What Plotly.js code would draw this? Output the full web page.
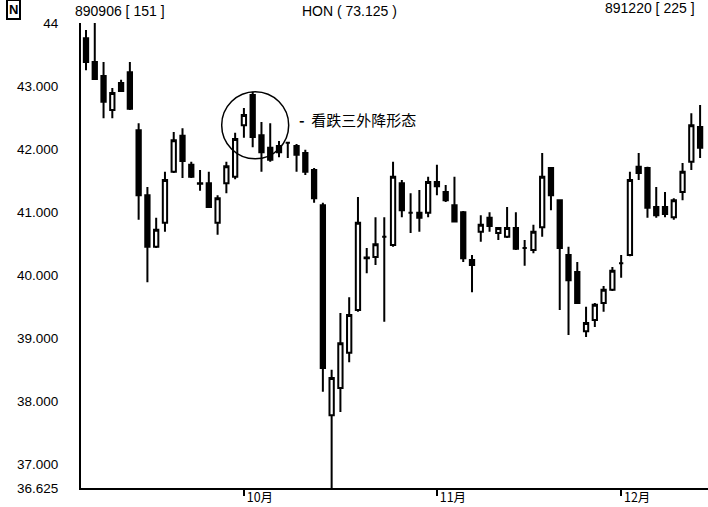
<!DOCTYPE html>
<html><head><meta charset="utf-8">
<script src="https://cdn.plot.ly/plotly-3.0.1.min.js"></script>
<style>html,body{margin:0;padding:0;background:#fff}#chart{width:708px;height:507px}</style>
</head><body><div id="chart"></div><script>
// ---- header info ----
const ticker = 'HON';
const lastPrice = '73.125';
const startDate = '890906', startNo = 151;
const endDate = '891220', endNo = 225;

// ---- daily bars (visible part of the chart) ----
const dates = [
 '890906','890907','890908','890911','890912','890913','890914','890915','890918','890919',
 '890920','890921','890922','890925','890926','890927','890928','890929',
 '891002','891003','891004','891005','891006','891009','891010','891011','891012','891013',
 '891016','891017','891018','891019','891020','891023','891024','891025','891026','891027',
 '891030','891031',
 '891101','891102','891103','891106','891107','891108','891109','891110','891113','891114',
 '891115','891116','891117','891120','891121','891122','891124','891127','891128','891129','891130',
 '891201','891204','891205','891206','891207','891208','891211','891212','891213','891214'
];
const open = [
 43.76,43.38,43.16,42.62,43.05,43.22,42.30,41.27,40.45,40.83,
 41.64,42.21,41.75,41.46,41.46,40.83,41.46,41.56,
 42.38,42.86,42.22,42.02,42.05,42.10,42.05,41.94,41.67,41.11,
 37.78,38.21,38.77,39.45,40.28,40.29,40.61,40.48,41.46,40.99,
 40.99,40.99,
 41.48,41.32,41.11,41.00,40.24,40.69,40.91,40.67,40.61,40.75,
 40.43,40.40,40.76,41.70,41.19,40.32,40.05,39.11,39.29,39.56,39.77,
 40.19,40.32,41.72,41.70,41.08,41.08,40.92,41.32,41.80,42.35
];
const high = [
 43.89,44.00,43.38,42.97,43.10,43.38,42.41,41.40,40.91,41.64,
 42.27,42.33,41.80,41.67,41.64,41.27,41.80,42.26,
 42.65,42.91,42.43,42.41,42.13,42.10,42.08,41.99,41.70,41.15,
 38.50,39.40,39.65,41.24,40.43,40.92,40.92,41.80,41.51,41.30,
 41.35,41.56,
 41.75,41.43,41.56,41.02,40.32,40.95,41.00,40.75,41.08,41.00,
 40.56,40.80,41.94,41.70,41.19,40.45,40.21,39.50,39.56,39.83,40.13,
 40.32,41.64,41.94,41.72,41.40,41.32,41.22,41.78,42.57,42.70
];
const low = [
 43.25,43.10,42.49,42.49,42.91,42.62,40.88,39.89,40.43,40.69,
 41.62,41.54,41.54,41.34,41.07,40.64,41.30,41.52,
 42.18,42.03,41.64,41.80,41.87,41.86,41.64,41.59,41.15,38.15,
 36.625,37.83,38.62,39.42,40.03,40.16,39.26,40.45,40.92,40.67,
 40.69,40.92,
 41.27,41.16,40.84,40.21,39.73,40.53,40.69,40.56,40.59,40.40,
 40.15,40.35,40.61,41.03,39.45,39.05,39.56,39.02,39.18,39.42,39.75,
 39.96,40.30,41.51,40.91,40.91,40.92,40.88,41.19,41.67,41.86
];
const close = [
 43.38,43.11,42.75,42.89,42.92,42.64,41.27,40.45,40.72,41.51,
 42.14,41.81,41.56,41.45,41.08,41.22,41.73,42.16,
 42.54,42.19,41.95,41.83,41.95,42.10,41.91,41.64,41.22,38.53,
 38.37,38.92,39.37,40.83,40.27,40.49,40.61,41.56,41.03,40.99,
 40.91,41.48,
 41.41,41.19,40.85,40.27,40.16,40.80,40.78,40.75,40.75,40.42,
 40.43,40.69,41.56,41.27,40.43,39.92,39.56,39.24,39.53,39.77,40.07,
 40.19,41.51,41.62,41.07,40.95,40.97,41.19,41.64,42.38,42.02
];

// ---- axis labels ----
const yTickVals = [44, 43, 42, 41, 40, 39, 38, 37, 36.625];
const yTickText = ['44', '43.000', '42.000', '41.000', '40.000', '39.000', '38.000', '37.000', '36.625'];
const monthStartDates = ['891002', '891101', '891201'];
const monthTickText = ['10月', '11月', '12月'];

// ---- pattern note ----
const patternDates = ['891002', '891003', '891004'];
const patternLabel = '看跌三外降形态';

const xs = dates.map((d, i) => i);
const pIdx = patternDates.map(d => dates.indexOf(d));
const pMid = pIdx[1];
const pHigh = Math.max(...pIdx.map(i => high[i]));
const pLow = Math.min(...pIdx.map(i => low[i]));
const pY = (pHigh + pLow) / 2;

const FONT = 'Liberation Sans, Arial, sans-serif';

const trace = {
  type: 'candlestick',
  x: xs, open: open, high: high, low: low, close: close,
  increasing: {line: {color: '#000', width: 2}, fillcolor: '#fff'},
  decreasing: {line: {color: '#000', width: 2}, fillcolor: '#000'},
  whiskerwidth: 0,
  hoverinfo: 'none',
  showlegend: false
};

const layout = {
  width: 708, height: 507,
  margin: {l: 81, r: 0, t: 23, b: 19, pad: 0},
  paper_bgcolor: '#fff', plot_bgcolor: '#fff',
  font: {family: FONT, size: 13, color: '#000'},
  showlegend: false,
  xaxis: {
    type: 'linear',
    range: [-0.57, 70.9],
    rangeslider: {visible: false},
    showgrid: false, zeroline: false,
    showline: true, linecolor: '#000', linewidth: 2,
    tickmode: 'array',
    tickvals: monthStartDates.map(d => dates.indexOf(d)),
    ticktext: monthTickText,
    ticks: 'outside', ticklen: 6, tickwidth: 2, tickcolor: '#000',
    ticklabelshift: 16, ticklabelstandoff: -9,
    tickfont: {family: 'Noto Sans CJK SC, ' + FONT, size: 12.5, color: '#000'},
    fixedrange: true
  },
  yaxis: {
    range: [36.625, 44],
    showgrid: false, zeroline: false,
    showline: true, linecolor: '#000', linewidth: 2,
    tickmode: 'array', tickvals: yTickVals, ticktext: yTickText,
    ticks: '', ticklabelstandoff: 18,
    tickfont: {family: FONT, size: 13.5, color: '#000'},
    fixedrange: true
  },
  shapes: [{
    type: 'circle', xref: 'x', yref: 'y',
    xsizemode: 'pixel', ysizemode: 'pixel',
    xanchor: pMid, yanchor: pY,
    x0: -31, x1: 36, y0: -27, y1: 40,
    line: {color: '#000', width: 1.5}
  }],
  annotations: [
    {xref: 'x', yref: 'y', x: pMid, y: pY, xanchor: 'left', yanchor: 'middle',
     xshift: 44, yshift: 12, showarrow: false,
     text: '<b>-</b>  ' + patternLabel,
     font: {family: 'Noto Sans CJK SC, sans-serif', size: 15, color: '#000'}},
    {xref: 'paper', yref: 'paper', x: -0.012, y: 1.026, xanchor: 'left', yanchor: 'middle',
     showarrow: false, text: startDate + ' [ ' + startNo + ' ]',
     font: {family: FONT, size: 14, color: '#000'}},
    {xref: 'paper', yref: 'paper', x: 0.428, y: 1.026, xanchor: 'center', yanchor: 'middle',
     showarrow: false, text: ticker + ' ( ' + lastPrice + ' )',
     font: {family: FONT, size: 14, color: '#000'}},
    {xref: 'paper', yref: 'paper', x: 0.982, y: 1.033, xanchor: 'right', yanchor: 'middle',
     showarrow: false, text: endDate + ' [ ' + endNo + ' ]',
     font: {family: FONT, size: 14, color: '#000'}},
    {xref: 'paper', yref: 'paper', x: -0.108, y: 1.03, xanchor: 'center', yanchor: 'middle',
     showarrow: false, text: '<b>N</b>', bordercolor: '#000', borderwidth: 2, borderpad: 1,
     font: {family: FONT, size: 13, color: '#000'}}
  ]
};

Plotly.newPlot('chart', [trace], layout, {staticPlot: true, displayModeBar: false});
</script></body></html>
